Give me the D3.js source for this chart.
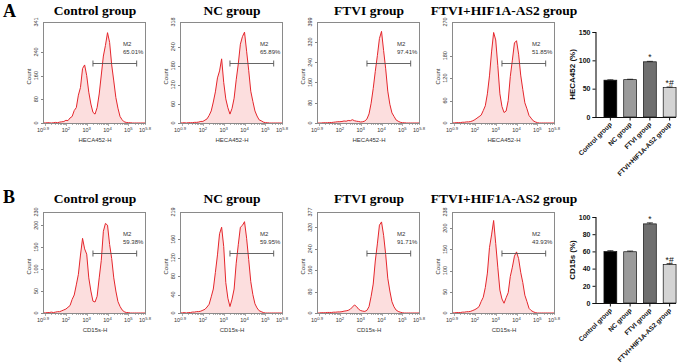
<!DOCTYPE html>
<html><head><meta charset="utf-8">
<script src="https://cdn.jsdelivr.net/npm/d3@7"></script>
<style>body{margin:0;background:#fff}svg{display:block}</style>
</head><body>
<svg id="c" width="685" height="364"></svg>
<script>
// ---------- DATA ----------
const groupTitles = ["Control group", "NC group", "FTVI group", "FTVI+HIF1A-AS2 group"];
const rowLetters = ["A", "B"];
const markerLabels = ["HECA452-H", "CD15s-H"];
const barYLabels = ["HECA452 (%)", "CD15s (%)"];
const gateName = "M2";
const gatePctA = ["65.01%", "65.89%", "97.41%", "51.85%"];
const gatePctB = ["59.38%", "59.95%", "91.71%", "43.93%"];
const gateRange = [3.3, 5.4];           // log10 fluorescence
const xDomainExp = [0.9, 5.8];
const xTickExp = [0.9, 2, 3, 4, 5, 5.8];
const xTickLabels = ["0.9", "2", "3", "4", "5", "5.8"];
const binStartExp = 0.9, binStepExp = 0.1;

const yMaxA = [341, 318, 399, 270];
const yTicksA = [[0, 80, 160, 240], [0, 60, 120, 180, 240], [0, 80, 160, 240, 320], [0, 60, 120, 180]];
const yMaxB = [230, 219, 377, 238];
const yTicksB = [[0, 50, 100, 150, 200], [0, 40, 80, 120, 160], [0, 80, 160, 240, 320], [0, 50, 100, 150, 200]];

// histogram counts, bins from 10^0.9 in steps of 0.1 decade
const histA1 = [1,0,1,1,0,1,2,1,3,4,5,9,8,17,22,42,52,94,120,184,196,160,104,64,36,30,52,98,162,226,262,305,272,196,142,86,50,22,11,4,2,1,1,0,0,0,0,0,0,0];
const histA2 = [1,0,1,0,1,1,1,2,2,3,5,5,9,13,24,38,66,98,142,164,202,128,76,48,28,46,78,136,186,248,272,286,226,166,100,68,38,22,10,7,3,1,1,0,0,0,0,0,0,0];
const histA3 = [0,0,0,1,1,1,2,2,3,4,5,5,6,8,7,10,9,13,9,7,6,4,5,8,16,36,78,136,204,266,334,362,286,214,126,74,40,26,12,7,3,1,1,0,0,0,0,0,0,0];
const histA4 = [1,0,1,1,1,2,2,3,3,4,6,9,13,17,21,33,46,78,126,190,242,222,154,78,44,28,32,60,124,168,214,220,184,128,90,54,38,20,13,6,3,1,0,0,0,0,0,0,0,0];
const histB1 = [1,0,1,1,2,1,2,3,3,5,7,9,13,17,31,41,64,88,132,170,146,134,80,50,27,25,38,80,120,186,204,200,156,124,80,50,26,15,7,3,1,1,0,0,0,0,0,0,0,0];
const histB2 = [1,0,1,0,1,1,2,2,3,3,4,6,8,13,19,35,52,88,126,172,186,144,66,32,14,30,52,108,148,186,190,198,162,116,68,40,20,11,5,3,1,0,0,0,0,0,0,0,0,0];
const histB3 = [0,0,1,1,1,2,2,2,3,3,4,4,5,7,8,10,14,22,30,24,14,9,7,6,10,24,62,108,194,258,328,340,290,218,130,82,42,23,11,6,3,1,0,0,0,0,0,0,0,0];
const histB4 = [1,0,1,1,1,2,2,3,3,4,6,8,11,15,27,37,60,94,154,184,218,164,108,54,33,23,36,48,86,108,134,144,128,96,72,42,27,11,6,3,1,0,0,0,0,0,0,0,0,0];

const barCats = ["Control group", "NC group", "FTVI group", "FTVI+HIF1A-AS2 group"];
const barValsA = [65.0, 65.9, 97.4, 51.9];
const barErrA = [0.6, 0.7, 0.8, 1.0];
const barValsB = [59.8, 59.6, 92.0, 44.8];
const barErrB = [1.0, 0.8, 1.2, 1.0];
const barSig = ["", "", "*", "*#"];
const barTicksA = [0, 50, 100, 150];
const barTicksB = [0, 20, 40, 60, 80, 100];
const barColors = ["#000000", "#9b9b9b", "#6f6f6f", "#d4d4d4"];

// ---------- LAYOUT ----------
const svg = d3.select("#c");
const histLefts = [43, 180, 317, 452];
const histW = 102, histH = 101;
const rowTops = [22, 212];
const rowTitleY = [15, 203];
const rowLetterY = [17, 203];

const rows = [
  {hists: [histA1, histA2, histA3, histA4], ymax: yMaxA, yticks: yTicksA, pct: gatePctA,
   bars: barValsA, errs: barErrA, bticks: barTicksA, bmax: 150, bTop: 32, bBot: 117},
  {hists: [histB1, histB2, histB3, histB4], ymax: yMaxB, yticks: yTicksB, pct: gatePctB,
   bars: barValsB, errs: barErrB, bticks: barTicksB, bmax: 100, bTop: 217, bBot: 303}
];

const sans = "'Liberation Sans', Arial, sans-serif";
const serif = "'Liberation Serif', 'Times New Roman', serif";

rows.forEach((row, ri) => {
  const top = rowTops[ri];
  svg.append("text").attr("x", 3).attr("y", rowLetterY[ri])
    .attr("font-family", serif).attr("font-weight", "bold").attr("font-size", 18)
    .text(rowLetters[ri]);

  row.hists.forEach((counts, gi) => {
    const left = histLefts[gi];
    const g = svg.append("g");
    const x = d3.scaleLog().domain(xDomainExp.map(e => Math.pow(10, e))).range([left, left + histW]);
    const y = d3.scaleLinear().domain([0, row.ymax[gi]]).range([top + histH, top]);
    const pts = counts.map((c, i) => [Math.pow(10, binStartExp + i * binStepExp), c])
      .filter(p => p[0] <= Math.pow(10, xDomainExp[1]) * 1.0001);

    svg.append("text").attr("x", left + histW / 2 + 1).attr("y", rowTitleY[ri])
      .attr("text-anchor", "middle").attr("font-family", serif).attr("font-weight", "bold")
      .attr("font-size", 13.5).text(groupTitles[gi]);

    const area = d3.area().x(d => x(d[0])).y0(y(0)).y1(d => y(d[1]));
    const line = d3.line().x(d => x(d[0])).y(d => y(d[1]));
    g.append("path").datum(pts).attr("d", area).attr("fill", "#fcdede");
    g.append("path").datum(pts).attr("d", line).attr("fill", "none")
      .attr("stroke", "#e5262c").attr("stroke-width", 1);

    g.append("rect").attr("x", left + 0.5).attr("y", top + 0.5).attr("width", histW).attr("height", histH)
      .attr("fill", "none").attr("stroke", "#8a8a8a").attr("stroke-width", 1);

    const yt = row.yticks[gi];
    yt.forEach(v => {
      g.append("line").attr("x1", left - 2).attr("x2", left).attr("y1", Math.round(y(v)) + 0.5).attr("y2", Math.round(y(v)) + 0.5)
        .attr("stroke", "#666").attr("stroke-width", 0.8);
    });
    yt.concat([row.ymax[gi]]).forEach(v => {
      g.append("text").attr("transform", `translate(${left - 5},${y(v)}) rotate(-90)`)
        .attr("text-anchor", "middle").attr("font-family", sans).attr("font-size", 5.5)
        .attr("fill", "#333").text(v);
    });
    g.append("text").attr("transform", `translate(${left - 12},${top + histH / 2 + 4}) rotate(-90)`)
      .attr("text-anchor", "middle").attr("font-family", sans).attr("font-size", 6)
      .attr("fill", "#333").text("Count");

    for (let d = 1; d <= 5; d++) {
      for (let m = 1; m <= 9; m++) {
        const v = m * Math.pow(10, d);
        if (v < Math.pow(10, xDomainExp[0]) || v > Math.pow(10, xDomainExp[1])) continue;
        const xx = Math.round(x(v)) + 0.5;
        g.append("line").attr("x1", xx).attr("x2", xx).attr("y1", top + histH + 1)
          .attr("y2", top + histH + (m === 1 ? 3 : 2)).attr("stroke", "#777").attr("stroke-width", 0.6);
      }
    }
    xTickExp.forEach((e, k) => {
      const t = g.append("text").attr("x", x(Math.pow(10, e))).attr("y", top + histH + 9)
        .attr("text-anchor", "middle").attr("font-family", sans).attr("font-size", 5.5).attr("fill", "#333");
      t.append("tspan").text("10");
      t.append("tspan").attr("dy", -2.5).attr("font-size", 4.2).text(xTickLabels[k]);
    });
    g.append("text").attr("x", left + histW / 2 + 1).attr("y", top + histH + 19)
      .attr("text-anchor", "middle").attr("font-family", sans).attr("font-size", 6)
      .attr("fill", "#333").text(markerLabels[ri]);

    const gy = top + 41.5;
    const gx1 = x(Math.pow(10, gateRange[0])), gx2 = x(Math.pow(10, gateRange[1]));
    g.append("line").attr("x1", gx1).attr("x2", gx2).attr("y1", gy).attr("y2", gy).attr("stroke", "#555").attr("stroke-width", 0.9);
    [gx1, gx2].forEach(xx => g.append("line").attr("x1", xx).attr("x2", xx).attr("y1", gy - 3).attr("y2", gy + 3).attr("stroke", "#555").attr("stroke-width", 0.9));
    g.append("text").attr("x", left + 80).attr("y", top + 24).attr("font-family", sans).attr("font-size", 6)
      .attr("fill", "#333").text(gateName);
    g.append("text").attr("x", left + 80).attr("y", top + 31.5).attr("font-family", sans).attr("font-size", 6)
      .attr("fill", "#333").text(row.pct[gi]);
  });

  // ---------- bar chart ----------
  const axX = 595.5;
  const bx = d3.scaleBand().domain(barCats).range([600, 680]).paddingInner(0.35).paddingOuter(0.2);
  const by = d3.scaleLinear().domain([0, row.bmax]).range([row.bBot, row.bTop]);
  const bg = svg.append("g");
  bg.selectAll("rect.bar").data(barCats).join("rect")
    .attr("x", d => bx(d)).attr("y", (d, i) => by(row.bars[i]))
    .attr("width", bx.bandwidth()).attr("height", (d, i) => by(0) - by(row.bars[i]))
    .attr("fill", (d, i) => barColors[i]).attr("stroke", "#111").attr("stroke-width", 0.7);
  barCats.forEach((c, i) => {
    const cx = bx(c) + bx.bandwidth() / 2;
    const yTop = by(row.bars[i] + row.errs[i]);
    bg.append("line").attr("x1", cx).attr("x2", cx).attr("y1", by(row.bars[i])).attr("y2", yTop).attr("stroke", "#111").attr("stroke-width", 0.8);
    bg.append("line").attr("x1", cx - 3).attr("x2", cx + 3).attr("y1", yTop).attr("y2", yTop).attr("stroke", "#111").attr("stroke-width", 0.8);
    if (barSig[i]) {
      bg.append("text").attr("x", cx).attr("y", yTop - 1).attr("text-anchor", "middle")
        .attr("font-family", sans).attr("font-size", 8.5).attr("fill", "#111").text(barSig[i]);
    }
  });
  const yAxis = d3.axisLeft(by).tickValues(row.bticks).tickSize(3).tickPadding(2);
  const ya = bg.append("g").attr("transform", `translate(${axX},0)`).call(yAxis);
  ya.select(".domain").attr("stroke", "#111").attr("stroke-width", 1.1);
  ya.selectAll(".tick line").attr("stroke", "#111");
  ya.selectAll("text").attr("font-family", sans).attr("font-weight", "bold").attr("font-size", 7).attr("fill", "#111");
  const xAxis = d3.axisBottom(bx).tickSize(3).tickSizeOuter(0).tickFormat("");
  const xa = bg.append("g").attr("transform", `translate(0,${row.bBot + 0.5})`).call(xAxis);
  xa.select(".domain").attr("stroke", "#111").attr("stroke-width", 1.1).attr("d", `M${axX},0H676`);
  xa.selectAll(".tick line").attr("stroke", "#111");
  barCats.forEach(c => {
    const cx = bx(c) + bx.bandwidth() / 2;
    bg.append("text").attr("transform", `translate(${cx + 2},${row.bBot + 8}) rotate(-45)`)
      .attr("text-anchor", "end").attr("font-family", sans).attr("font-weight", "bold")
      .attr("font-size", 6.6).attr("fill", "#111").text(c);
  });
  bg.append("text").attr("transform", `translate(575,${(row.bTop + row.bBot) / 2}) rotate(-90)`)
    .attr("text-anchor", "middle").attr("font-family", sans).attr("font-weight", "bold")
    .attr("font-size", 8).attr("fill", "#111").text(barYLabels[ri]);
});
</script>
</body></html>
